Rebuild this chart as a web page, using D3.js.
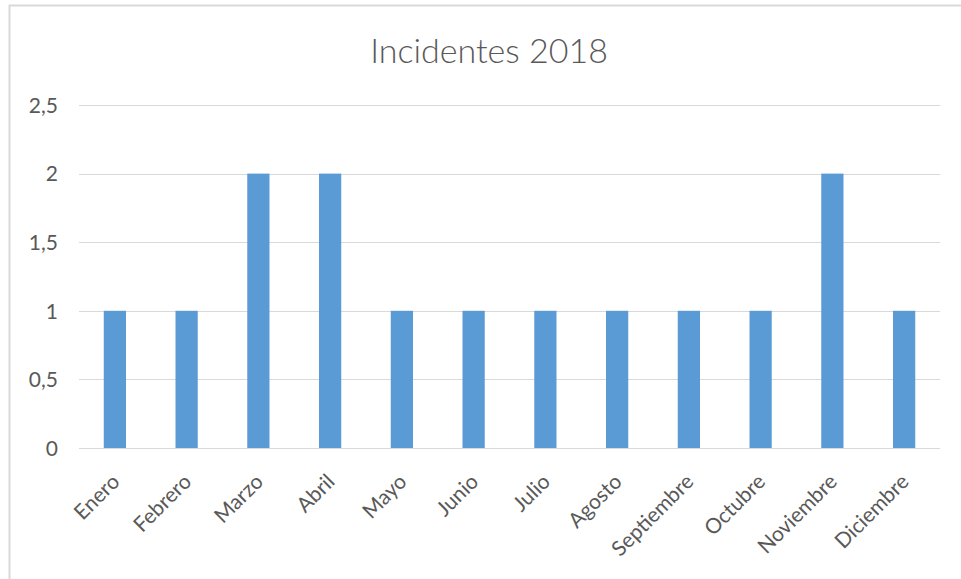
<!DOCTYPE html>
<html>
<head>
<meta charset="utf-8">
<script src="https://cdn.jsdelivr.net/npm/d3@7"></script>
<style>
  body { margin: 0; background: #fff; }
  svg { display: block; }
</style>
</head>
<body>
<svg width="961" height="579"></svg>
<script>
'use strict';

// data
var months = ['Enero', 'Febrero', 'Marzo', 'Abril', 'Mayo', 'Junio', 'Julio',
    'Agosto', 'Septiembre', 'Octubre', 'Noviembre', 'Diciembre'];
var incidents = [1, 1, 2, 2, 1, 1, 1, 1, 1, 1, 2, 1];
var yTicks = [0, 0.5, 1, 1.5, 2, 2.5];

var FONT = 'Lato, "Noto Sans", sans-serif';
var TEXT_COLOR = '#595959';

var margin = { left: 79, right: 21, top: 105, bottom: 131 };
var W = 961, H = 579;
var width = W - margin.left - margin.right;
var height = H - margin.top - margin.bottom;

var svg = d3.select('svg');

// chart frame (cropped at right/bottom)
svg.append('rect')
    .attr('x', 9.5)
    .attr('y', 5.5)
    .attr('width', 1000)
    .attr('height', 1000)
    .attr('fill', '#fff')
    .attr('stroke', '#d9d9d9')
    .attr('stroke-width', 2);

svg.append('text')
    .attr('x', 489)
    .attr('y', 63)
    .attr('text-anchor', 'middle')
    .attr('fill', TEXT_COLOR)
    .style('font-family', FONT)
    .style('font-size', '34px')
    .style('font-weight', 300)
    .text('Incidentes 2018');

var x = d3.scaleBand()
    .domain(months)
    .range([0, width])
    .paddingInner(0.69)
    .paddingOuter(0.345);

var y = d3.scaleLinear()
    .domain([0, 2.5])
    .range([height, 0]);

var g = svg.append('g')
    .attr('transform', 'translate(' + margin.left + ',' + margin.top + ')');

// grid
g.append('g')
    .selectAll('line')
    .data(yTicks)
    .enter()
    .append('line')
    .attr('x1', 0)
    .attr('x2', width)
    .attr('y1', function(d) { return Math.round(y(d)) + 0.5; })
    .attr('y2', function(d) { return Math.round(y(d)) + 0.5; })
    .attr('stroke', '#d9d9d9');

var axisY = d3.axisLeft(y)
    .tickValues(yTicks)
    .tickSize(0)
    .tickPadding(21)
    .tickFormat(function(d) { return String(d).replace('.', ','); });

var ay = g.append('g').call(axisY);
ay.select('.domain').remove();
ay.selectAll('.tick text')
    .attr('dy', '0.35em')
    .style('font-family', FONT)
    .style('font-size', '21px')
    .style('fill', TEXT_COLOR);

g.append('g')
    .selectAll('rect')
    .data(incidents)
    .enter()
    .append('rect')
    .attr('x', function(d, i) { return x(months[i]); })
    .attr('width', x.bandwidth())
    .attr('y', function(d) { return y(d); })
    .attr('height', function(d) { return y(0) - y(d); })
    .attr('fill', '#5b9bd5');

var axisX = d3.axisBottom(x)
    .tickSize(0)
    .tickPadding(0);

var ax = g.append('g')
    .attr('transform', 'translate(0,' + height + ')')
    .call(axisX);
ax.select('.domain').remove();
ax.selectAll('.tick text')
    .attr('text-anchor', 'end')
    .attr('dy', 0)
    .attr('transform', 'translate(6,35) rotate(-45)')
    .style('font-family', FONT)
    .style('font-size', '21px')
    .style('fill', TEXT_COLOR);

// baseline
g.append('line')
    .attr('x1', 0)
    .attr('x2', width)
    .attr('y1', Math.round(y(0)) + 0.5)
    .attr('y2', Math.round(y(0)) + 0.5)
    .attr('stroke', '#d9d9d9');
</script>
</body>
</html>
